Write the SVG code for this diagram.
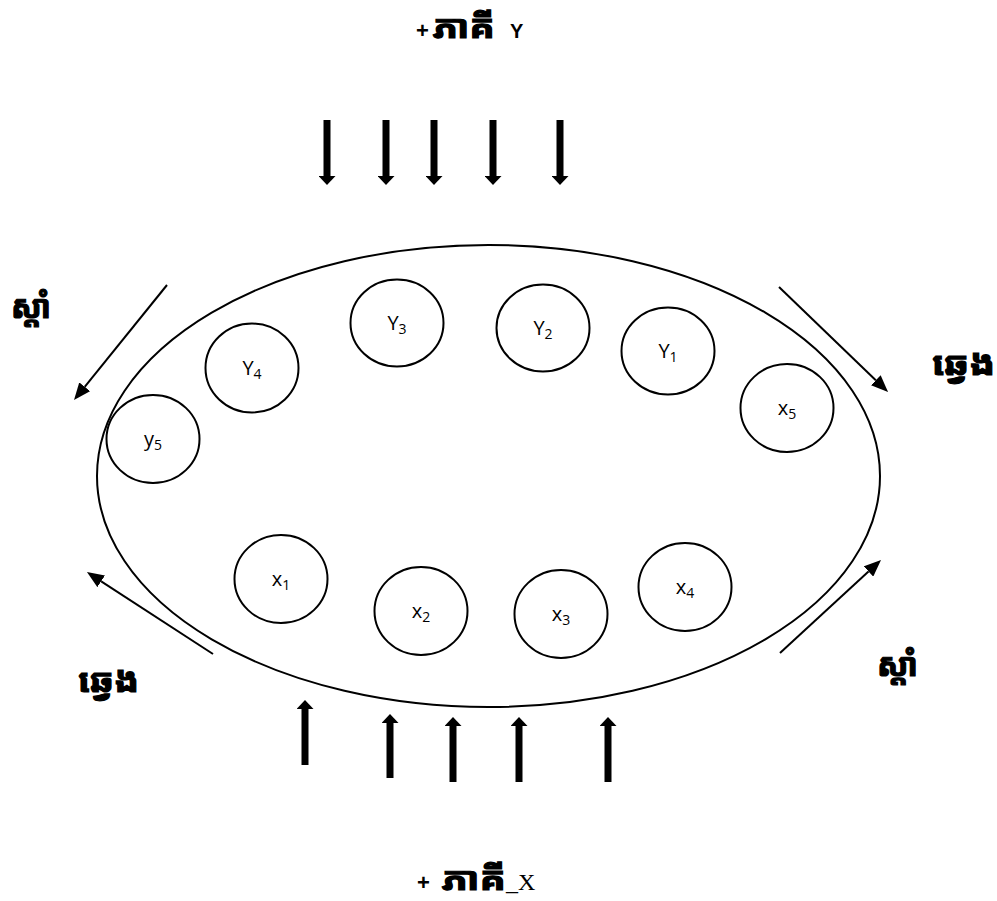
<svg xmlns="http://www.w3.org/2000/svg" width="997" height="901" viewBox="0 0 997 901">
<style>
.node ellipse{fill:#fff;stroke:#000;stroke-width:2}
.lbl{font-family:"Open Sans","Noto Sans",sans-serif;font-size:20px;fill:#000;text-anchor:middle}
.sub{font-size:14px}
.km{font-family:"Noto Sans Khmer","Khmer OS","Noto Sans","DejaVu Sans",sans-serif;font-weight:bold;font-size:32px;fill:#000;stroke:#000;stroke-width:1.2}
.lat{font-family:"Liberation Sans",Arial,sans-serif;font-weight:bold;fill:#000}
.thick{stroke:#000;stroke-width:7;fill:none;marker-end:url(#hd)}
.thin{stroke:#000;stroke-width:2;fill:none;marker-end:url(#ht)}
</style>
<defs>
<marker id="hd" markerUnits="userSpaceOnUse" markerWidth="9" markerHeight="17" viewBox="0 0 9 17" refX="0" refY="8.5" orient="auto"><path d="M0,0 L9,8.5 L0,17 z" fill="#000"/></marker>
<marker id="ht" markerUnits="userSpaceOnUse" markerWidth="17" markerHeight="14" viewBox="0 0 17 14" refX="0" refY="7" orient="auto"><path d="M0,0 L17,7 L0,14 z" fill="#000"/></marker>
</defs>
<rect width="997" height="901" fill="#fff"/>
<g id="big-ellipse"><ellipse cx="488.5" cy="476" rx="391.5" ry="231" fill="none" stroke="#000" stroke-width="2"/></g>
<g id="connectors">
<line class="thick" x1="327" y1="120" x2="327" y2="176"/>
<line class="thick" x1="386" y1="120" x2="386" y2="176"/>
<line class="thick" x1="434" y1="120" x2="434" y2="176"/>
<line class="thick" x1="493" y1="120" x2="493" y2="176"/>
<line class="thick" x1="560" y1="120" x2="560" y2="176"/>
<line class="thick" x1="305" y1="765" x2="305" y2="709"/>
<line class="thick" x1="390" y1="778" x2="390" y2="723"/>
<line class="thick" x1="453" y1="782" x2="453" y2="726"/>
<line class="thick" x1="519" y1="782" x2="519" y2="726"/>
<line class="thick" x1="608" y1="782" x2="608" y2="726"/>
<line class="thin" x1="167" y1="285" x2="84.7" y2="386.8"/>
<line class="thin" x1="779" y1="287" x2="875.8" y2="380.2"/>
<line class="thin" x1="213" y1="654" x2="101.2" y2="581.3"/>
<line class="thin" x1="780" y1="653" x2="868.5" y2="571.5"/>
</g>
<g id="Y3" class="node"><ellipse cx="397" cy="323" rx="46.5" ry="43.5"/><text class="lbl" x="397" y="330">Y<tspan class="sub" dy="4">3</tspan></text></g>
<g id="Y2" class="node"><ellipse cx="543" cy="328" rx="46.5" ry="43.5"/><text class="lbl" x="543" y="335">Y<tspan class="sub" dy="4">2</tspan></text></g>
<g id="Y1" class="node"><ellipse cx="668" cy="351" rx="46.5" ry="43.5"/><text class="lbl" x="668" y="358">Y<tspan class="sub" dy="4">1</tspan></text></g>
<g id="x5" class="node"><ellipse cx="787" cy="408" rx="46.5" ry="44"/><text class="lbl" x="787" y="415">x<tspan class="sub" dy="4">5</tspan></text></g>
<g id="Y4" class="node"><ellipse cx="252" cy="368" rx="46.5" ry="44.5"/><text class="lbl" x="252" y="375">Y<tspan class="sub" dy="4">4</tspan></text></g>
<g id="y5" class="node"><ellipse cx="153" cy="439" rx="46.5" ry="44"/><text class="lbl" x="153" y="446">y<tspan class="sub" dy="4">5</tspan></text></g>
<g id="x1" class="node"><ellipse cx="281" cy="579" rx="46.5" ry="44"/><text class="lbl" x="281" y="586">x<tspan class="sub" dy="4">1</tspan></text></g>
<g id="x2" class="node"><ellipse cx="421" cy="611" rx="46.5" ry="44"/><text class="lbl" x="421" y="618">x<tspan class="sub" dy="4">2</tspan></text></g>
<g id="x3" class="node"><ellipse cx="561" cy="614" rx="46.5" ry="44"/><text class="lbl" x="561" y="621">x<tspan class="sub" dy="4">3</tspan></text></g>
<g id="x4" class="node"><ellipse cx="685" cy="587" rx="46.5" ry="44"/><text class="lbl" x="685" y="594">x<tspan class="sub" dy="4">4</tspan></text></g>
<g id="labels">
<text class="lat" x="416" y="38" font-size="22">+</text>
<text class="km" x="433" y="38" textLength="62" lengthAdjust="spacingAndGlyphs">ភាគី</text>
<text class="lat" x="510" y="38" font-size="20">Y</text>
<text class="km" x="11" y="318" textLength="40" lengthAdjust="spacingAndGlyphs">ស្តាំ</text>
<text class="km" x="932" y="375" textLength="63" lengthAdjust="spacingAndGlyphs">ឆ្វេង</text>
<text class="km" x="78" y="692" textLength="61" lengthAdjust="spacingAndGlyphs">ឆ្វេង</text>
<text class="km" x="877" y="676" textLength="41" lengthAdjust="spacingAndGlyphs">ស្តាំ</text>
<text class="lat" x="417" y="890" font-size="22">+</text>
<text class="km" x="442" y="890" textLength="64" lengthAdjust="spacingAndGlyphs">ភាគី</text>
<text x="506" y="890" font-family="Liberation Serif,serif" font-size="24" fill="#000">_X</text>
</g>
</svg>
